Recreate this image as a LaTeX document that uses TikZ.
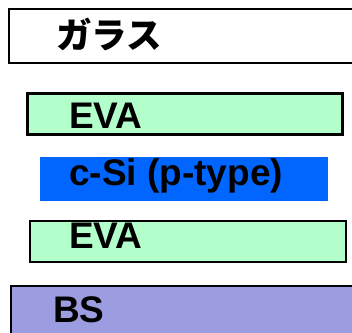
\documentclass[tikz,border=0pt]{standalone}
\usepackage{fontspec}
\setmainfont{Liberation Sans}
\newfontfamily\cjk{Noto Sans CJK JP}
\definecolor{evagreen}{HTML}{B3FFCC}
\definecolor{siblue}{HTML}{0066FF}
\definecolor{bslav}{HTML}{9C9CE0}
\tikzset{
  layer/.style={draw=black, anchor=north west, inner sep=0pt, outer sep=0pt},
  lbl/.style={anchor=base west, inner sep=0pt, font=\fontsize{37}{40}\selectfont\bfseries},
}
\begin{document}
\begin{tikzpicture}[x=1pt,y=-1pt]
\useasboundingbox (0,0) rectangle (352,332);
\clip (0,0) rectangle (352,332);
\node[layer, line width=2pt, fill=white, minimum width=360pt, minimum height=54pt] (glass) at (9,9) {};
\node[layer, line width=3pt, fill=evagreen, minimum width=315pt, minimum height=41pt] (eva1) at (27.5,93.5) {};
\node[layer, draw=none, fill=siblue, minimum width=288pt, minimum height=44pt] (csi) at (40,157) {};
\node[layer, line width=2.5pt, fill=evagreen, minimum width=316pt, minimum height=41pt] (eva2) at (30,221) {};
\node[layer, line width=2.5pt, fill=bslav, minimum width=360pt, minimum height=60pt] (bs) at (11,286) {};
\node[lbl, font=\fontsize{35.5}{40}\selectfont\cjk\bfseries] (tglass) at (56,48) {ガラス};
\node[lbl] (teva1) at (69,128) {EVA};
\node[lbl] (tcsi) at (69,185) {c-Si (p-type)};
\node[lbl] (teva2) at (69,248) {EVA};
\node[lbl] (tbs) at (53,322) {BS};
\end{tikzpicture}
\end{document}
